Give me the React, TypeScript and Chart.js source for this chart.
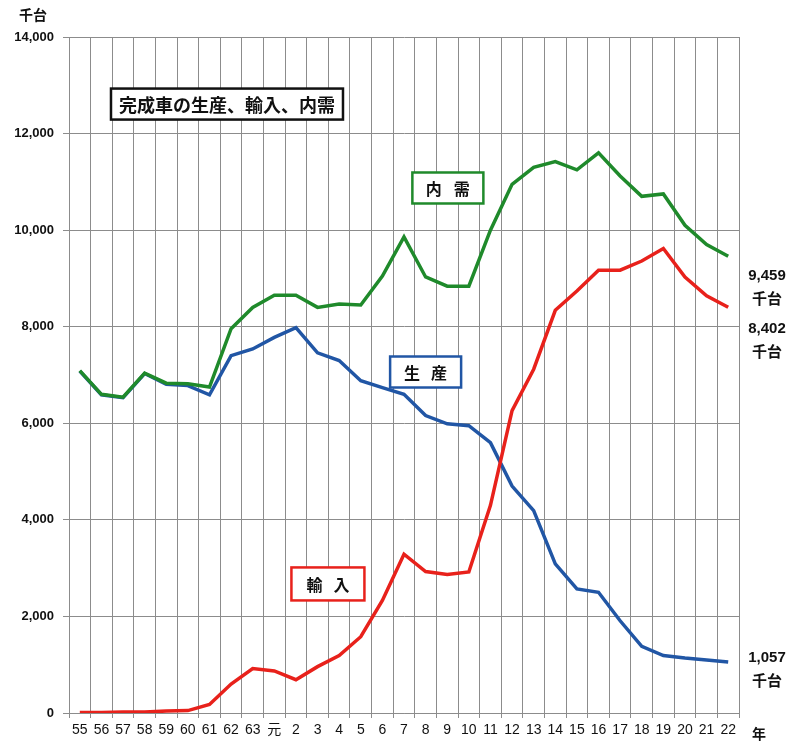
import React, { useEffect, useRef } from "react";
import { Chart, registerables } from "chart.js";

Chart.register(...registerables);

const years = ["55","56","57","58","59","60","61","62","63","元","2","3","4","5","6","7","8","9","10","11","12","13","14","15","16","17","18","19","20","21","22"];
const naiju = [7090,6600,6540,7040,6830,6820,6750,7960,8400,8650,8650,8400,8470,8450,9050,9860,9030,8840,8840,10000,10950,11300,11420,11250,11600,11120,10700,10750,10100,9700,9459];
const seisan = [7080,6590,6530,7030,6810,6780,6590,7400,7540,7780,7980,7460,7300,6880,6740,6600,6160,5990,5950,5600,4700,4190,3090,2570,2500,1910,1380,1190,1140,1100,1057];
const yunyu = [10,10,20,20,40,50,175,600,920,870,690,960,1190,1580,2330,3290,2930,2870,2920,4300,6260,7120,8340,8740,9170,9170,9360,9620,9030,8640,8402];
const yTicks = [0,2000,4000,6000,8000,10000,12000,14000];

const GREEN = "#1f8a2b";
const BLUE = "#2156a5";
const RED = "#e8211b";
const FONT = "'Liberation Sans', Arial, 'Noto Sans CJK JP', sans-serif";
const JFONT = "'Noto Sans CJK JP', 'Liberation Sans', sans-serif";

const annotPlugin = {
  id: "annot",
  afterDraw(chart: any) {
    const ctx = chart.ctx;
    const xs = chart.scales.x;
    const ys = chart.scales.y;
    const ca = chart.chartArea;
    ctx.save();
    // unit label top-left
    ctx.fillStyle = "#111";
    ctx.font = "bold 14px " + JFONT;
    ctx.textAlign = "center";
    ctx.textBaseline = "middle";
    ctx.fillText("千台", 33, 15);
    // 年 label
    ctx.fillText("年", ca.right + 20, ca.bottom + 21);

    const box = (ix: number, val: number, w: number, h: number, color: string, chars: string[], gap: number, size: number) => {
      const cx = xs.getPixelForValue(ix);
      const cy = ys.getPixelForValue(val);
      ctx.fillStyle = "#fff";
      ctx.fillRect(cx - w / 2, cy - h / 2, w, h);
      ctx.lineWidth = 2.5;
      ctx.strokeStyle = color;
      ctx.strokeRect(cx - w / 2, cy - h / 2, w, h);
      ctx.fillStyle = "#111";
      ctx.font = "bold " + size + "px " + JFONT;
      ctx.textAlign = "center";
      ctx.textBaseline = "middle";
      if (chars.length === 1) {
        ctx.fillText(chars[0], cx, cy + 1);
      } else {
        const n = chars.length;
        chars.forEach((c, i) => {
          ctx.fillText(c, cx + (i - (n - 1) / 2) * gap, cy + 1);
        });
      }
    };
    box(6.81, 12611, 232, 31, "#111", ["完成車の生産、輸入、内需"], 0, 18);
    box(17.03, 10873, 71, 31, GREEN, ["内", "需"], 28, 16);
    box(16.0, 7062, 71, 31, BLUE, ["生", "産"], 27, 16);
    box(11.48, 2673, 73, 33, RED, ["輸", "入"], 27, 16);

    // right-side value labels
    const rx = ca.right + 28;
    const endLabel = (val: number, text: string, dy: number) => {
      const y = ys.getPixelForValue(val) + dy;
      ctx.fillStyle = "#111";
      ctx.textAlign = "center";
      ctx.textBaseline = "middle";
      ctx.font = "bold 15px " + FONT;
      ctx.fillText(text, rx, y);
      ctx.font = "bold 15px " + JFONT;
      ctx.fillText("千台", rx, y + 22);
    };
    endLabel(naiju[naiju.length - 1], "9,459", 20);
    endLabel(yunyu[yunyu.length - 1], "8,402", 22);
    endLabel(seisan[seisan.length - 1], "1,057", -4);
    ctx.restore();
  },
};

export default function App() {
  const ref = useRef<HTMLCanvasElement | null>(null);
  useEffect(() => {
    document.body.style.margin = "0";
    const canvas = ref.current!;
    const chart = new Chart(canvas, {
      type: "line",
      data: {
        labels: years,
        datasets: [
          { label: "内需", data: naiju, borderColor: GREEN, borderWidth: 3.5, pointRadius: 0, tension: 0, order: 0 },
          { label: "輸入", data: yunyu, borderColor: RED, borderWidth: 3.5, pointRadius: 0, tension: 0, order: 1 },
          { label: "生産", data: seisan, borderColor: BLUE, borderWidth: 3.5, pointRadius: 0, tension: 0, order: 2 },
        ],
      },
      options: {
        responsive: false,
        animation: false,
        layout: { padding: { top: 37, right: 49, left: 0, bottom: 0 } },
        plugins: { legend: { display: false }, tooltip: { enabled: false } },
        scales: {
          x: {
            type: "category",
            offset: true,
            grid: { offset: true, color: "#8c8c8c", lineWidth: 1, tickLength: 5, drawTicks: true },
            border: { display: true, color: "#8c8c8c" },
            ticks: { color: "#111", font: { family: FONT, size: 14 }, autoSkip: false, maxRotation: 0, padding: 4 },
            afterFit: (s: any) => { s.height = 28; },
          },
          y: {
            min: 0,
            max: 14000,
            afterBuildTicks: (s: any) => { s.ticks = yTicks.map((v) => ({ value: v })); },
            grid: { color: "#8c8c8c", lineWidth: 1, tickLength: 6 },
            border: { display: true, color: "#8c8c8c" },
            ticks: {
              color: "#111",
              font: { family: FONT, size: 13, weight: "bold" },
              padding: 9,
              callback: (v: any) => Number(v).toLocaleString("en-US"),
            },
            afterFit: (s: any) => { s.width = 69; },
          },
        },
      },
      plugins: [annotPlugin],
    } as any);
    return () => chart.destroy();
  }, []);
  return <canvas ref={ref} width={788} height={741} style={{ display: "block" }} />;
}
